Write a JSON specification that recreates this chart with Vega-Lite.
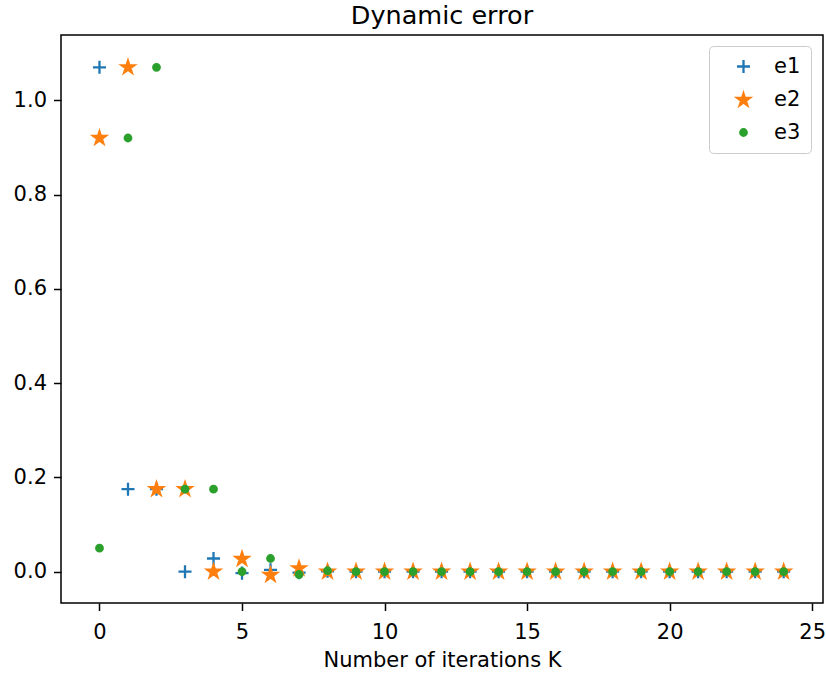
{
  "$schema": "https://vega.github.io/schema/vega-lite/v6.json",
  "width": 762,
  "height": 568,
  "autosize": {"type": "none"},
  "padding": {"left": 61, "top": 35, "right": 3, "bottom": 72},
  "background": "white",
  "title": {"text": "Dynamic error", "fontSize": 25.5, "font": "DejaVu Sans", "fontWeight": "normal", "color": "black", "anchor": "middle", "baseline": "alphabetic", "offset": -14},
  "config": {
    "view": {"stroke": "black", "strokeWidth": 1.5},
    "axis": {"labelFont": "DejaVu Sans", "labelFontSize": 21, "labelColor": "black", "tickColor": "black", "tickSize": 7.5, "tickWidth": 1.5, "domain": false, "grid": false, "titleFont": "DejaVu Sans", "titleFontSize": 21, "titleFontWeight": "normal", "titleColor": "black"},
    "legend": {"labelFont": "DejaVu Sans", "labelFontSize": 21, "labelColor": "black"}
  },
  "data": {"values": [
    {"k": 0, "e": 1.07, "s": "e1"}, {"k": 1, "e": 0.175, "s": "e1"}, {"k": 2, "e": 0.175, "s": "e1"}, {"k": 3, "e": 0.0, "s": "e1"}, {"k": 4, "e": 0.028, "s": "e1"}, {"k": 5, "e": -0.003, "s": "e1"}, {"k": 6, "e": 0.004, "s": "e1"}, {"k": 7, "e": -0.002, "s": "e1"}, {"k": 8, "e": 0.001, "s": "e1"}, {"k": 9, "e": 0.0, "s": "e1"}, {"k": 10, "e": 0.0, "s": "e1"}, {"k": 11, "e": 0.0, "s": "e1"}, {"k": 12, "e": 0.0, "s": "e1"}, {"k": 13, "e": 0.0, "s": "e1"}, {"k": 14, "e": 0.0, "s": "e1"}, {"k": 15, "e": 0.0, "s": "e1"}, {"k": 16, "e": 0.0, "s": "e1"}, {"k": 17, "e": 0.0, "s": "e1"}, {"k": 18, "e": 0.0, "s": "e1"}, {"k": 19, "e": 0.0, "s": "e1"}, {"k": 20, "e": 0.0, "s": "e1"}, {"k": 21, "e": 0.0, "s": "e1"}, {"k": 22, "e": 0.0, "s": "e1"}, {"k": 23, "e": 0.0, "s": "e1"}, {"k": 24, "e": 0.0, "s": "e1"},
    {"k": 0, "e": 0.92, "s": "e2"}, {"k": 1, "e": 1.07, "s": "e2"}, {"k": 2, "e": 0.175, "s": "e2"}, {"k": 3, "e": 0.175, "s": "e2"}, {"k": 4, "e": 0.0, "s": "e2"}, {"k": 5, "e": 0.027, "s": "e2"}, {"k": 6, "e": -0.007, "s": "e2"}, {"k": 7, "e": 0.007, "s": "e2"}, {"k": 8, "e": 0.0, "s": "e2"}, {"k": 9, "e": 0.0, "s": "e2"}, {"k": 10, "e": 0.0, "s": "e2"}, {"k": 11, "e": 0.0, "s": "e2"}, {"k": 12, "e": 0.0, "s": "e2"}, {"k": 13, "e": 0.0, "s": "e2"}, {"k": 14, "e": 0.0, "s": "e2"}, {"k": 15, "e": 0.0, "s": "e2"}, {"k": 16, "e": 0.0, "s": "e2"}, {"k": 17, "e": 0.0, "s": "e2"}, {"k": 18, "e": 0.0, "s": "e2"}, {"k": 19, "e": 0.0, "s": "e2"}, {"k": 20, "e": 0.0, "s": "e2"}, {"k": 21, "e": 0.0, "s": "e2"}, {"k": 22, "e": 0.0, "s": "e2"}, {"k": 23, "e": 0.0, "s": "e2"}, {"k": 24, "e": 0.0, "s": "e2"},
    {"k": 0, "e": 0.05, "s": "e3"}, {"k": 1, "e": 0.92, "s": "e3"}, {"k": 2, "e": 1.07, "s": "e3"}, {"k": 3, "e": 0.175, "s": "e3"}, {"k": 4, "e": 0.175, "s": "e3"}, {"k": 5, "e": 0.0, "s": "e3"}, {"k": 6, "e": 0.028, "s": "e3"}, {"k": 7, "e": -0.006, "s": "e3"}, {"k": 8, "e": 0.002, "s": "e3"}, {"k": 9, "e": 0.0, "s": "e3"}, {"k": 10, "e": 0.0, "s": "e3"}, {"k": 11, "e": 0.0, "s": "e3"}, {"k": 12, "e": 0.0, "s": "e3"}, {"k": 13, "e": 0.0, "s": "e3"}, {"k": 14, "e": 0.0, "s": "e3"}, {"k": 15, "e": 0.0, "s": "e3"}, {"k": 16, "e": 0.0, "s": "e3"}, {"k": 17, "e": 0.0, "s": "e3"}, {"k": 18, "e": 0.0, "s": "e3"}, {"k": 19, "e": 0.0, "s": "e3"}, {"k": 20, "e": 0.0, "s": "e3"}, {"k": 21, "e": 0.0, "s": "e3"}, {"k": 22, "e": 0.0, "s": "e3"}, {"k": 23, "e": 0.0, "s": "e3"}, {"k": 24, "e": 0.0, "s": "e3"}
  ]},
  "mark": {"type": "point", "filled": true, "opacity": 1, "size": 170, "strokeWidth": 2.3},
  "encoding": {
    "x": {"field": "k", "type": "quantitative", "scale": {"domain": [-1.35, 25.38], "nice": false, "zero": false}, "axis": {"values": [0, 5, 10, 15, 20, 25], "title": "Number of iterations K", "labelPadding": 11, "titlePadding": 7}},
    "y": {"field": "e", "type": "quantitative", "scale": {"domain": [-0.0664, 1.1385], "nice": false, "zero": false}, "axis": {"values": [0, 0.2, 0.4, 0.6, 0.8, 1.0], "format": ".1f", "title": null, "labelPadding": 7}},
    "color": {"field": "s", "type": "nominal", "scale": {"domain": ["e1", "e2", "e3"], "range": ["#1f77b4", "#ff7f0e", "#2ca02c"]}, "legend": {"title": null, "orient": "none", "legendX": 648, "legendY": 11, "padding": 10, "symbolOffset": 14, "labelOffset": 20, "rowPadding": 10.5, "symbolSize": 170, "symbolStrokeWidth": 2.3, "strokeColor": "#cccccc", "fillColor": "rgba(255,255,255,0.8)", "cornerRadius": 4}},
    "stroke": {"field": "s", "type": "nominal", "scale": {"domain": ["e1", "e2", "e3"], "range": ["#1f77b4", "#ff7f0e", "#2ca02c"]}, "legend": {"title": null, "orient": "none", "legendX": 648, "legendY": 11, "padding": 10, "symbolOffset": 14, "labelOffset": 20, "rowPadding": 10.5, "symbolSize": 170, "symbolStrokeWidth": 2.3, "strokeColor": "#cccccc", "fillColor": "rgba(255,255,255,0.8)", "cornerRadius": 4}},
    "shape": {"field": "s", "type": "nominal", "scale": {"domain": ["e1", "e2", "e3"], "range": ["M-1,0L1,0M0,-1L0,1", "M0,-1L0.2245,-0.309L0.9511,-0.309L0.3633,0.118L0.5878,0.809L0,0.382L-0.5878,0.809L-0.3633,0.118L-0.9511,-0.309L-0.2245,-0.309Z", "M0.5,0A0.5,0.5,0,1,1,-0.5,0A0.5,0.5,0,1,1,0.5,0Z"]}, "legend": {"title": null, "orient": "none", "legendX": 648, "legendY": 11, "padding": 10, "symbolOffset": 14, "labelOffset": 20, "rowPadding": 10.5, "symbolSize": 170, "symbolStrokeWidth": 2.3, "strokeColor": "#cccccc", "fillColor": "rgba(255,255,255,0.8)", "cornerRadius": 4}}
  }
}
